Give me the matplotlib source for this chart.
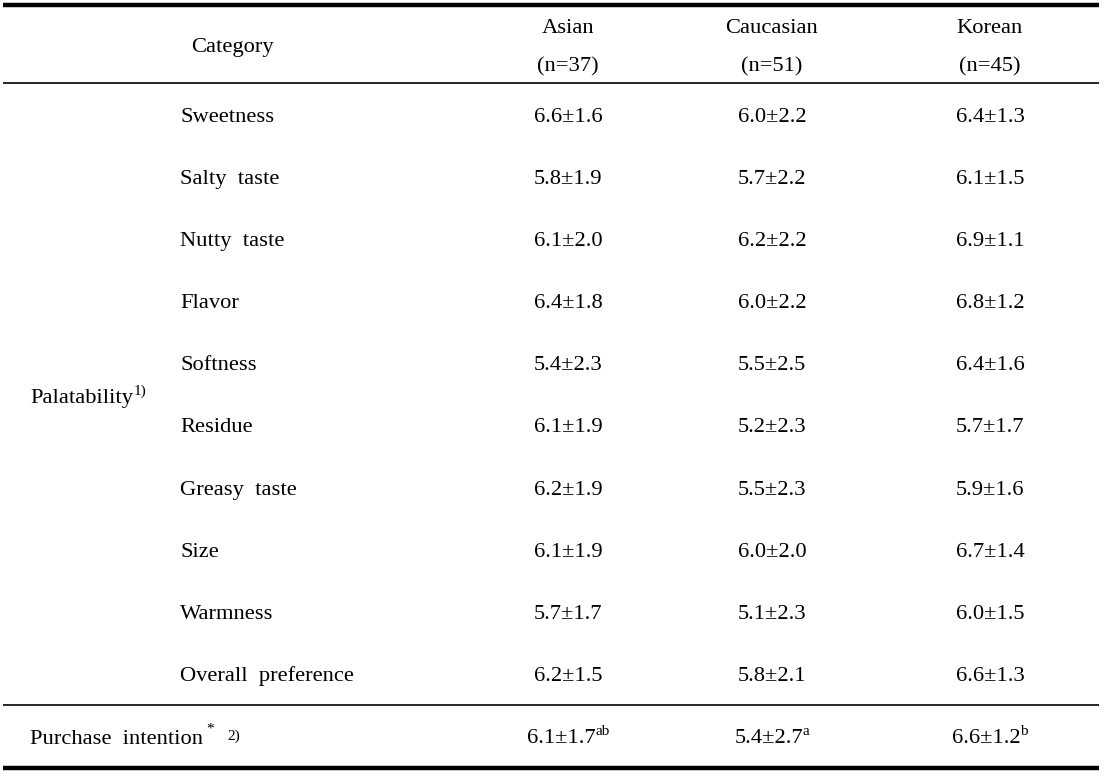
import matplotlib
matplotlib.use("Agg")
import matplotlib.pyplot as plt

plt.rcParams['font.family'] = ['Liberation Serif', 'DejaVu Serif']

groups = ["Asian", "Caucasian", "Korean"]
group_n = ["(n=37)", "(n=51)", "(n=45)"]
attributes = ["Sweetness", "Salty  taste", "Nutty  taste", "Flavor", "Softness",
              "Residue", "Greasy  taste", "Size", "Warmness", "Overall  preference"]
asian = ["6.6±1.6", "5.8±1.9", "6.1±2.0", "6.4±1.8", "5.4±2.3",
         "6.1±1.9", "6.2±1.9", "6.1±1.9", "5.7±1.7", "6.2±1.5"]
caucasian = ["6.0±2.2", "5.7±2.2", "6.2±2.2", "6.0±2.2", "5.5±2.5",
             "5.2±2.3", "5.5±2.3", "6.0±2.0", "5.1±2.3", "5.8±2.1"]
korean = ["6.4±1.3", "6.1±1.5", "6.9±1.1", "6.8±1.2", "6.4±1.6",
          "5.7±1.7", "5.9±1.6", "6.7±1.4", "6.0±1.5", "6.6±1.3"]
purchase = ["6.1±1.7", "5.4±2.7", "6.6±1.2"]
purchase_sup = ["ab", "a", "b"]

W, H = 1110, 776
fig = plt.figure(figsize=(W / 100, H / 100), dpi=100)
ax = fig.add_axes([0, 0, 1, 1])
ax.set_xlim(0, W)
ax.set_ylim(H, 0)
ax.axis('off')
renderer = fig.canvas.get_renderer()

fs = 16.2
sfs = 11
col_x = [568, 772, 990]
x0, x1 = 3, 1099


def width_of(t):
    bb = t.get_window_extent(renderer=renderer)
    return bb.width


def right_of(t):
    bb = t.get_window_extent(renderer=renderer)
    return bb.x1


# rules
ax.plot([x0, x1], [4.5, 4.5], color='black', lw=3.2, solid_capstyle='butt')
ax.plot([x0, x1], [83, 83], color='black', lw=1.2, solid_capstyle='butt')
ax.plot([x0, x1], [704.5, 704.5], color='black', lw=1.2, solid_capstyle='butt')
ax.plot([x0, x1], [767.5, 767.5], color='black', lw=3.2, solid_capstyle='butt')

# header
ax.text(232, 52, "Category", fontsize=fs, ha='center', va='baseline')
for cx, g, n in zip(col_x, groups, group_n):
    ax.text(cx, 33, g, fontsize=fs, ha='center', va='baseline')
    ax.text(cx, 71, n, fontsize=fs, ha='center', va='baseline')

# body
row_y0, row_dy = 122, 62.1
for i, (a, v1, v2, v3) in enumerate(zip(attributes, asian, caucasian, korean)):
    y = row_y0 + i * row_dy
    ax.text(180, y, a, fontsize=fs, ha='left', va='baseline')
    for cx, v in zip(col_x, (v1, v2, v3)):
        ax.text(cx, y, v, fontsize=fs, ha='center', va='baseline')

pal = ax.text(30, 403, "Palatability", fontsize=fs, ha='left', va='baseline')
ax.text(right_of(pal) + 1, 395, "1)", fontsize=sfs, ha='left', va='baseline')

pur = ax.text(30, 744, "Purchase  intention", fontsize=fs, ha='left', va='baseline')
xe = right_of(pur)
ax.text(xe + 3, 733, "*", fontsize=sfs, ha='left', va='baseline')
ax.text(xe + 24, 740, "2)", fontsize=sfs, ha='left', va='baseline')

for cx, v, s in zip(col_x, purchase, purchase_sup):
    t = ax.text(cx, 743, v, fontsize=fs, ha='left', va='baseline')
    st = ax.text(0, 735, s, fontsize=sfs, ha='left', va='baseline')
    wv, ws = width_of(t), width_of(st)
    left = cx - (wv + ws) / 2
    t.set_x(left)
    st.set_x(left + wv)

fig.savefig("out.png", dpi=100, facecolor='white')
